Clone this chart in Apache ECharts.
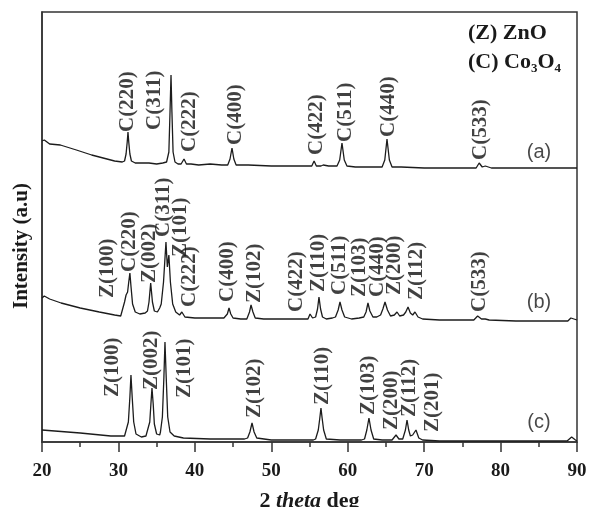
<!DOCTYPE html>
<html>
<head>
<meta charset="utf-8">
<script src="https://cdn.jsdelivr.net/npm/echarts@6/dist/echarts.min.js"></script>
<style>html,body{margin:0;padding:0;background:#fff}#c{width:589px;height:507px}</style>
</head>
<body>
<div id="c"></div>
<script>
// x-axis ticks
var xTicks = [20, 30, 40, 50, 60, 70, 80, 90];

// pattern (a): Co3O4  [2theta, intensity a.u.]
var patternA = [
  [20.0,301],[20.3,302],[21,298],[22.4,297],[24.5,292],[26.5,287],[28,284],[29.5,281],[30.5,280],
  [30.8,281],[31.0,288],[31.15,300],[31.25,310],[31.35,300],[31.5,288],[31.7,281],[32.2,279],
  [33,279],[34,279],[35,278],[35.8,279],
  [36.3,280],[36.6,290],[36.75,330],[36.88,367],[37.0,330],[37.15,290],[37.4,280],[37.8,278],
  [38.2,278],[38.58,283],[38.9,278],[39.5,278],[40.5,277],[42,278],[43.5,277],
  [44.3,277],[44.6,283],[44.86,294],[45.1,283],[45.4,277],
  [47,277],[50,276],[53,276],[55,276],
  [55.3,276],[55.6,281],[55.9,276],[56.5,276],[56.8,277],[57.5,276],
  [58.6,276],[58.95,282],[59.25,299],[59.55,282],[59.9,276],
  [61,275],[63,275],[64.5,275],
  [64.85,282],[65.14,303],[65.45,282],[65.8,275],
  [67,275],[70,274],[73,274],[76.4,274],
  [76.8,274],[77.2,279],[77.6,275],[78.0,276],[78.4,275],[78.8,274],
  [82,274],[86,274],[90,274]
];

// pattern (b): ZnO/Co3O4 composite
var patternB = [
  [20.0,144],[20.3,146],[21,143],[22.5,139],[25,134],[27.5,130],[29.5,127],[30.3,126],
  [30.5,128],[30.8,140],[31.0,147],[31.2,150],[31.35,160],[31.5,169],[31.65,155],[31.85,138],[32.2,130],[32.8,128],[33.5,129],
  [33.8,131],[34.0,140],[34.22,159],[34.45,140],[34.7,131],[35.1,130],[35.4,134],
  [35.6,138],[35.9,160],[36.22,200],[36.4,175],[36.6,187],[36.8,160],[37.1,138],[37.5,130],[38.0,127],
  [38.3,130],[38.7,125],[40,124],[42,124],[43.8,124],
  [44.0,124],[44.25,128],[44.47,134],[44.7,128],[45.0,124],
  [46,123],[46.8,123],
  [46.9,124],[47.15,130],[47.35,137],[47.6,130],[47.9,124],
  [49,123],[52,123],[54.5,123],
  [54.8,123],[55.07,128],[55.4,124],[55.8,125],
  [56.05,133],[56.24,145],[56.45,133],[56.7,125],[57.2,123],[58.0,124],
  [58.4,125],[58.75,132],[58.99,140],[59.25,132],[59.6,125],[60.5,123],[61.5,124],[62.1,125],
  [62.4,130],[62.65,139],[62.9,131],[63.3,125],[63.8,125],
  [64.3,127],[64.6,133],[64.88,140],[65.2,132],[65.6,126],
  [66.1,127],[66.45,130],[66.8,126],[67.3,127],
  [67.6,130],[67.89,135],[68.2,129],[68.5,127],
  [68.8,130],[69.2,125],[69.8,123],
  [72,122],[75,122],[76.5,122],
  [77.0,126],[77.5,123],[78,123],[78.5,122],
  [82,121],[86,121],[88.8,121],[89.2,124],[89.6,123],[90,122]
];

// pattern (c): ZnO
var patternC = [
  [20,12],[25,9],[29,6],[30.8,6],
  [31.0,7],[31.3,20],[31.5,45],[31.64,67],[31.8,45],[32.0,20],[32.3,8],[33.0,5],[33.6,6],
  [33.8,8],[34.1,20],[34.25,38],[34.39,54],[34.55,38],[34.7,18],[35.0,8],[35.4,7],
  [35.5,10],[35.75,25],[35.95,65],[36.09,100],[36.25,65],[36.45,25],[36.75,10],[37.3,6],[38.5,4],
  [42,3],[46.5,3],
  [46.9,4],[47.2,10],[47.48,19],[47.75,10],[48.1,4],
  [50,2],[53,2],[55.5,2],
  [55.8,3],[56.15,12],[56.35,24],[56.5,34],[56.65,24],[56.85,12],[57.2,3],
  [59,2],[61.8,2],
  [62.2,3],[62.5,12],[62.78,24],[63.05,12],[63.4,3],
  [64.5,2],[65.8,2],
  [66.0,3],[66.32,7],[66.7,3],[67.2,3],
  [67.55,12],[67.76,22],[67.98,12],[68.2,6],
  [68.5,7],[68.93,12],[69.3,4],[69.8,2],
  [72,1],[80,1],[88.7,1],[89.3,5],[89.8,2],[90,1]
];

// peak annotations: [2theta position, label base intensity, text]
var peakLabelsA = [
  [31.25,310,'C(220)'],[34.78,312,'C(311)'],[39.36,290,'C(222)'],[45.38,297,'C(400)'],
  [55.98,287,'C(422)'],[59.77,300,'C(511)'],[65.40,305,'C(440)'],[77.44,282,'C(533)']
];
var peakLabelsB = [
  [28.64,144,'Z(100)'],[31.51,170,'C(220)'],[34.13,159,'Z(002)'],[35.96,205,'C(311)'],
  [38.19,185,'Z(101)'],[39.36,135,'C(222)'],[44.34,140,'C(400)'],[47.87,139,'Z(102)'],
  [53.36,130,'C(422)'],[56.24,150,'Z(110)'],[58.99,147,'C(511)'],[61.61,145,'Z(103)'],
  [63.96,145,'C(440)'],[66.19,147,'Z(200)'],[69.06,142,'Z(112)'],[77.31,130,'C(533)']
];
var peakLabelsC = [
  [29.29,45,'Z(100)'],[34.39,52,'Z(002)'],[38.71,44,'Z(101)'],[47.87,24,'Z(102)'],
  [56.77,37,'Z(110)'],[62.78,27,'Z(103)'],[65.79,12,'Z(200)'],[68.15,25,'Z(112)'],
  [71.16,10,'Z(201)']
];
// sample tags
var sampleTags = [[85.03,290,'(a)'],[85.03,140,'(b)'],[85.03,20,'(c)']];

var chart = echarts.init(document.getElementById('c'));
var serif = 'Liberation Serif';
var lineColor = '#1c1c1c';

function lineSeries(d){
  return {type:'line', data:d, showSymbol:false, symbol:'none',
    lineStyle:{color:lineColor, width:1.3}, z:3, silent:true};
}
function peakSeries(d){
  return {type:'scatter', data:d, symbolSize:1, itemStyle:{color:'rgba(0,0,0,0)'}, silent:true, z:5,
    label:{show:true, position:'inside', rotate:90, align:'left', verticalAlign:'middle',
      formatter:function(p){return p.data[2];},
      fontFamily:serif, fontWeight:'bold', fontSize:21, color:'#111'}};
}

chart.setOption({
  animation:false,
  backgroundColor:'#fff',
  grid:{left:42, right:12, top:12, bottom:65, show:true, borderColor:'#333', borderWidth:1.5,
    outerBoundsMode:'none', containLabel:false},
  xAxis:{type:'value', min:20, max:90, interval:10,
    axisLine:{show:true, lineStyle:{color:'#333', width:1.5}},
    axisTick:{show:true, inside:false, length:10, lineStyle:{color:'#333', width:1.5}},
    minorTick:{show:true, splitNumber:2, length:5, lineStyle:{color:'#333', width:1.5}},
    splitLine:{show:false},
    axisLabel:{margin:20, fontFamily:serif, fontWeight:'bold', fontSize:19, color:'#1a1a1a',
      formatter:function(v){return xTicks.indexOf(v)>=0 ? String(v) : '';}},
    name:'{n|2 }{i|theta}{n| deg}', nameLocation:'middle', nameGap:48,
    nameTextStyle:{rich:{
      n:{fontFamily:serif, fontWeight:'bold', fontSize:22, color:'#1a1a1a'},
      i:{fontFamily:serif, fontWeight:'bold', fontStyle:'italic', fontSize:22, color:'#1a1a1a'}}}
  },
  yAxis:{type:'value', min:0, max:430,
    axisLine:{show:true, lineStyle:{color:'#333', width:1.5}},
    axisTick:{show:false}, axisLabel:{show:false}, splitLine:{show:false},
    name:'Intensity (a.u)', nameLocation:'middle', nameGap:10,
    nameTextStyle:{fontFamily:serif, fontWeight:'bold', fontSize:21, color:'#1a1a1a', padding:[0,38,0,0]}
  },
  graphic:[{type:'text', left:468, top:22, style:{
    text:'{t|(Z) ZnO}\n{t|(C) Co}{s|3}{t|O}{s|4}',
    rich:{t:{fontFamily:serif, fontWeight:'bold', fontSize:22, lineHeight:29, fill:'#1a1a1a'},
          s:{fontFamily:serif, fontWeight:'bold', fontSize:13, lineHeight:29, fill:'#1a1a1a', padding:[14,0,0,0]}}
  }}],
  series:[
    lineSeries(patternA), lineSeries(patternB), lineSeries(patternC),
    peakSeries(peakLabelsA), peakSeries(peakLabelsB), peakSeries(peakLabelsC),
    {type:'scatter', data:sampleTags, symbolSize:1, itemStyle:{color:'rgba(0,0,0,0)'}, silent:true, z:5,
     label:{show:true, position:'inside', formatter:function(p){return p.data[2];},
       fontFamily:'Liberation Sans', fontSize:20, color:'#1a1a1a'}}
  ]
});
</script>
</body>
</html>
